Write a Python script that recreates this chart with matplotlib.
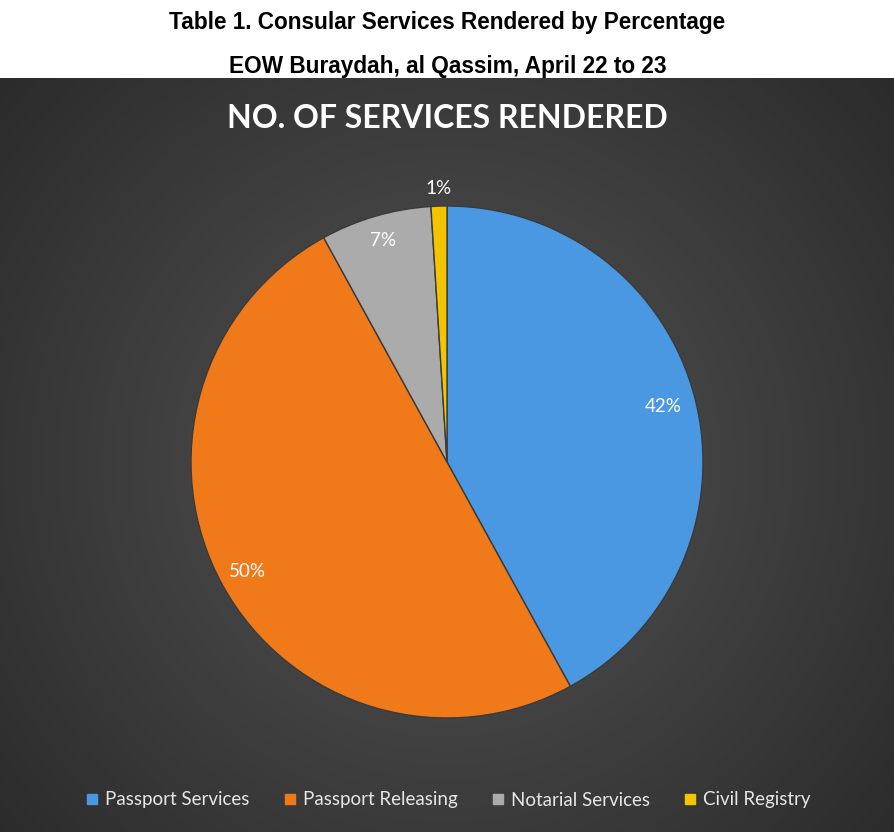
import numpy as np
import matplotlib.pyplot as plt
from matplotlib.lines import Line2D

# data
labels = ["Passport Services", "Passport Releasing", "Notarial Services", "Civil Registry"]
values = [42, 50, 7, 1]
pct_text = ["42%", "50%", "7%", "1%"]
colors = ["#4a98e2", "#f07a1a", "#ababab", "#f2c500"]

W, H = 895, 832
fig = plt.figure(figsize=(W / 100, H / 100), dpi=100)
fig.patch.set_facecolor("white")

# dark panel with a radial gradient
top = (H - 78) / H
bg = fig.add_axes([0, 0, 1, top])
yy, xx = np.mgrid[0:754, 0:895]
cx, cy = 447, 384
d = np.sqrt((xx - cx) ** 2 + (yy - cy) ** 2) / 620.0
shade = 0.33 - 0.17 * np.clip(d, 0, 1)
img = np.dstack([shade, shade, shade])
bg.imshow(img, aspect="auto", extent=[0, 1, 0, 1])
bg.set_axis_off()

# headings on the white strip
fig.text(0.5, 1 - 22 / H, "Table 1. Consular Services Rendered by Percentage",
         ha="center", va="center", fontsize=16.3, fontweight="bold",
         family="Liberation Sans", color="black")
fig.text(0.5, 1 - 66 / H, "EOW Buraydah, al Qassim, April 22 to 23",
         ha="center", va="center", fontsize=16.3, fontweight="bold",
         family="Liberation Sans", color="black")

# chart title
fig.text(0.5, 1 - 119 / H, "NO. OF SERVICES RENDERED", ha="center", va="center",
         fontsize=23, fontweight="bold", family="Lato", color="white")

# pie
R = 256
ax = fig.add_axes([(447 - R) / W, (H - 462 - R) / H, 2 * R / W, 2 * R / H])
wedges, _ = ax.pie(values, colors=colors, startangle=90, counterclock=False,
                   radius=1.0, wedgeprops=dict(edgecolor="#3a3a3a", linewidth=1.0))
ax.set_xlim(-1, 1)
ax.set_ylim(-1, 1)
ax.set_aspect("auto")
ax.set_axis_off()

# percent labels
dist = [0.87, 0.89, 0.90, 1.07]
total = float(sum(values))
start = 90.0
for w, t, r in zip(values, pct_text, dist):
    mid = np.deg2rad(start - 360 * w / total / 2)
    ax.text(r * np.cos(mid), r * np.sin(mid), t, ha="center", va="center",
            fontsize=13.5, color="white", family="Lato")
    start -= 360 * w / total

# legend
handles = [Line2D([], [], marker="s", linestyle="", markersize=7,
                  markerfacecolor=c, markeredgecolor=c) for c in colors]
leg = fig.legend(handles, labels, loc="center", bbox_to_anchor=(0.5, 1 - 800 / H),
                 ncol=4, frameon=False, handletextpad=0.3,
                 columnspacing=1.75, handlelength=0.8,
                 prop={"family": "Lato", "size": 13.5})
for txt in leg.get_texts():
    txt.set_color("#e6e6e6")

fig.savefig("out.png", dpi=100)
